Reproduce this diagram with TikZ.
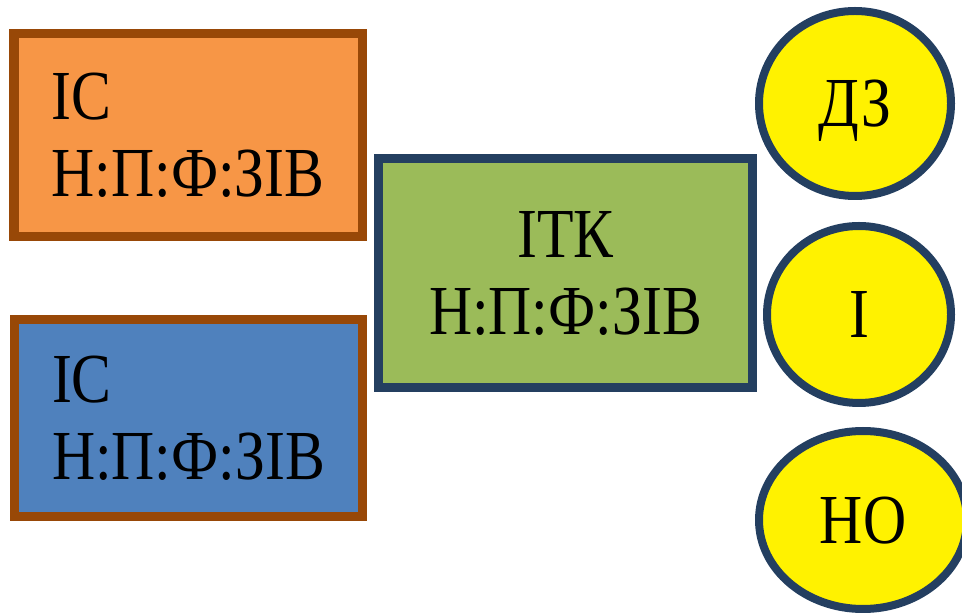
\documentclass[tikz,border=0pt]{standalone}
\usepackage{fontspec}
\setmainfont{Liberation Serif}
\newfontfamily\narrowserif[FakeStretch=0.85]{Liberation Serif}
\usepackage{xcolor}
\usepackage{tikz}
\usetikzlibrary{shapes,positioning}
\definecolor{orangefill}{HTML}{F79646}
\definecolor{bluefill}{HTML}{4F81BD}
\definecolor{greenfill}{HTML}{9BBB59}
\definecolor{brownline}{HTML}{984807}
\definecolor{navyline}{HTML}{243F60}
\tikzset{
  isbox/.style={draw=brownline,line width=0.225cm,minimum width=8.7cm,align=left,inner sep=0pt,font=\narrowserif\fontsize{50}{54.8}\selectfont},
  itkbox/.style={draw=navyline,fill=greenfill,line width=0.225cm,minimum width=9.35cm,minimum height=5.725cm,align=center,inner sep=0pt,font=\narrowserif\fontsize{50}{54.8}\selectfont},
  outcome/.style={ellipse,draw=navyline,fill=yellow,line width=0.2cm,inner sep=0pt,text depth=0pt,font=\narrowserif\fontsize{50}{54.8}\selectfont}
}

\begin{document}
\begin{tikzpicture}
\useasboundingbox (0,0) rectangle (24.05,15.3);
% left boxes
\node[isbox,fill=orangefill,minimum height=5.075cm] (IS1) at (4.7,11.9125) {ІС\\Н:П:Ф:ЗІВ};
\node[isbox,fill=bluefill,minimum height=4.925cm] (IS2) at (4.7125,4.85) {ІС\\Н:П:Ф:ЗІВ};
% middle box
\node[itkbox] (ITK) at (14.1375,8.4625) {ІТК\\Н:П:Ф:ЗІВ};
% right circles
\node[outcome,minimum width=4.8cm,minimum height=4.625cm] (DZ) at (21.375,12.7125) {ДЗ};
\node[outcome,minimum width=4.6cm,minimum height=4.425cm] (I) at (21.475,7.4375) {І};
\node[outcome,minimum width=5.2cm,minimum height=4.45cm] (NO) at (21.575,2.3) {НО};
\end{tikzpicture}
\end{document}
